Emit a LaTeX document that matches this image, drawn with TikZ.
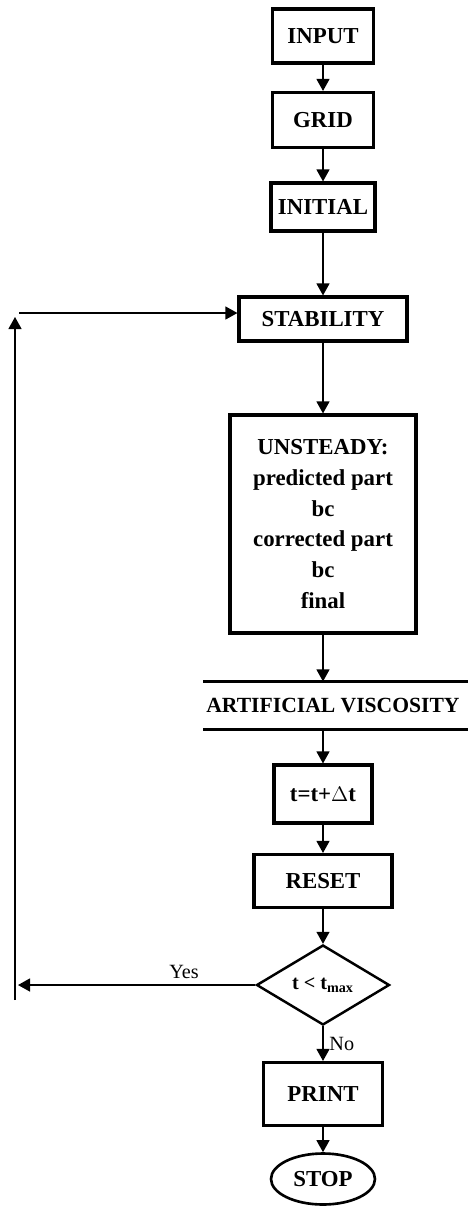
\documentclass[tikz,border=0pt]{standalone}
\usepackage{fontspec}
\setmainfont{Liberation Serif}
\usetikzlibrary{positioning, arrows.meta, shapes.geometric}

\begin{document}
\begin{tikzpicture}[node distance=2cm, on grid,
    >={Triangle[width=0.26cm,length=0.24cm]},
    box/.style={draw, line width=1.8pt, inner sep=0pt, align=center,
                font=\fontsize{13}{17.5}\selectfont\bfseries},
    flow/.style={->, line width=0.7pt}]
       \useasboundingbox (0,0) rectangle (9.34,-24.12);

       % Bagian awal
       \node[box, minimum width=2.02cm, minimum height=1.08cm] (input) at (6.46,-0.72) {INPUT};
       \node[box, minimum width=2.02cm, minimum height=1.10cm] (grid) [below=1.68cm of input] {GRID};
       \node[box, minimum width=2.08cm, minimum height=0.96cm] (initial) [below=1.74cm of grid] {INITIAL};
       \node[box, minimum width=3.36cm, minimum height=0.88cm] (stab) [below=2.24cm of initial] {STABILITY};

       % Langkah waktu
       \node[box, minimum width=3.72cm, minimum height=4.36cm] (unst) [below=4.10cm of stab]
            {UNSTEADY:\\predicted part\\bc\\corrected part\\bc\\final};
       \node[box, draw=none, minimum width=5.4cm, minimum height=0.9cm, font=\fontsize{12.3}{15}\selectfont\bfseries] (visc)
            [below right=3.63cm and 0.2cm of unst] {ARTIFICIAL VISCOSITY};
       \draw[line width=1.8pt] ([xshift=0.14cm]visc.north west) -- (visc.north east)
                               ([xshift=0.14cm]visc.south west) -- (visc.south east);
       \node[box, minimum width=1.96cm, minimum height=1.16cm] (tdt) [below left=1.77cm and 0.2cm of visc] {t=t+$\Delta$t};
       \node[box, minimum width=2.76cm, minimum height=1.06cm] (reset) [below=1.74cm of tdt] {RESET};

       % Keputusan dan akhir
       \node[diamond, draw, line width=1.4pt, aspect=1.66, minimum width=2.66cm, minimum height=1.6cm,
             inner sep=0pt, font=\fontsize{11.5}{13}\selectfont\bfseries] (dec) [below=2.08cm of reset] {t < t\textsubscript{max}};
       \node[box, minimum width=2.38cm, minimum height=1.26cm] (print) [below=2.18cm of dec] {PRINT};
       \node[ellipse, draw, line width=1.5pt, minimum width=2.08cm, minimum height=1.02cm, inner sep=0pt,
             font=\fontsize{13}{15}\selectfont\bfseries] (stop) [below=1.70cm of print] {STOP};

       \path[flow]
       (input) edge (grid)
       (grid) edge (initial)
       (initial) edge (stab)
       (stab) edge (unst)
       (unst) edge (unst.south |- visc.north)
       (tdt.north |- visc.south) edge (tdt)
       (tdt) edge (reset)
       (reset) edge (dec)
       (dec) edge node [right, font=\fontsize{11.5}{13}\selectfont] {No} (print)
       (print) edge (stop);

       % Kembali ke STABILITY
       \coordinate (yestip) at (0.36,0);
       \coordinate (loopbot) at (0.3,-20.0);
       \coordinate (looptop) at (0.3,-6.34);
       \coordinate (loopstart) at (0.38,-6.26);
       \draw[flow] (dec.west) -- node [pos=0.3, above, font=\fontsize{11.5}{13}\selectfont] {Yes} (dec.west -| yestip);
       \draw[flow] (loopbot) -- (looptop);
       \draw[flow] (loopstart) -- (loopstart -| stab.west);
    \end{tikzpicture}
\end{document}
